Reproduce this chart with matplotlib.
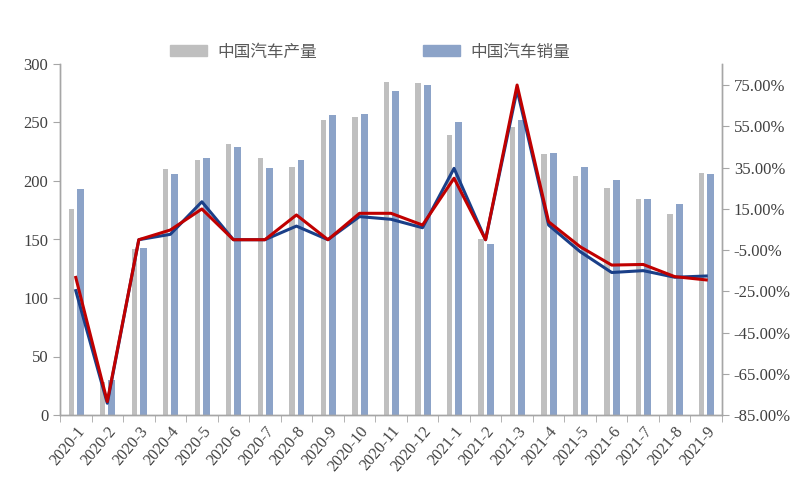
import numpy as np
import matplotlib.pyplot as plt
from matplotlib.ticker import FixedLocator, FuncFormatter
from matplotlib.patches import Patch

plt.rcParams['font.family'] = ['Liberation Serif', 'Noto Sans CJK SC']

# 月份
mois = ['2020-1', '2020-2', '2020-3', '2020-4', '2020-5', '2020-6', '2020-7',
        '2020-8', '2020-9', '2020-10', '2020-11', '2020-12', '2021-1', '2021-2',
        '2021-3', '2021-4', '2021-5', '2021-6', '2021-7', '2021-8', '2021-9']

# 产量 / 销量 (万辆)
production = [176, 28, 142, 210, 218, 232, 220, 212, 252, 255, 285, 284, 239, 150,
              246, 223, 204, 194, 185, 172, 207]
ventes = [193, 30, 143, 206, 220, 229, 211, 218, 256, 257, 277, 282, 250, 146,
          252, 224, 212, 201, 185, 180, 206]

# 同比增速 (%)
croissance_prod = [-24.7, -79.3, 0.0, 2.6, 18.4, 0.0, 0.0, 6.6, 0.0, 11.2, 9.9, 5.8,
                   34.6, 0.0, 72.6, 7.1, -5.8, -15.9, -15.0, -18.2, -17.6]
croissance_ventes = [-18.3, -78.5, 0.0, 4.7, 14.9, 0.0, 0.0, 12.0, 0.0, 12.8, 12.8, 7.1,
                     29.8, 0.0, 75.0, 8.7, -3.4, -12.3, -12.0, -17.9, -19.5]

gris = '#BFBFBF'
bleu_barre = '#8CA3C8'
bleu_ligne = '#1A3F88'
rouge = '#C00000'
axe = '#A6A6A6'

x = np.arange(len(mois))

fig = plt.figure(figsize=(8, 5), dpi=100)
ax = fig.add_axes([0.075, 0.17, 0.8275, 0.702])

ax.bar(x - 0.145, production, width=0.17, color=gris)
ax.bar(x + 0.145, ventes, width=0.22, color=bleu_barre)

ax.set_xlim(-0.5, len(mois) - 0.5)
ax.set_ylim(0, 300)
ax.set_yticks(np.arange(0, 301, 50))

ax2 = ax.twinx()
ax2.plot(x, croissance_prod, color=bleu_ligne, lw=2.2)
ax2.plot(x, croissance_ventes, color=rouge, lw=2.2)
ax2.set_ylim(-85, 85.2)
ax2.set_yticks(np.arange(-85, 76, 20))
ax2.yaxis.set_major_formatter(FuncFormatter(lambda v, p: f'{v:.2f}%'))

# x ticks: labels at centers, marks at boundaries
ax.set_xticks(x)
ax.set_xticklabels(mois, rotation=50, ha='right', rotation_mode='anchor', fontsize=11.5, color='#404040')
ax.tick_params(axis='x', which='major', length=0, pad=6)
ax.xaxis.set_minor_locator(FixedLocator(np.arange(-0.5, len(mois), 1)))
ax.tick_params(axis='x', which='minor', length=5, color=axe)

ax.tick_params(axis='y', labelsize=12, labelcolor='#404040', color=axe, length=5)
ax2.tick_params(axis='y', labelsize=12, labelcolor='#404040', color=axe, length=5)

for a in (ax, ax2):
    a.spines['top'].set_visible(False)
    for s in ('left', 'right', 'bottom'):
        a.spines[s].set_color(axe)
        a.spines[s].set_linewidth(1)

poignees = [Patch(color=gris), Patch(color=bleu_barre)]
fig.legend(poignees, ['中国汽车产量', '中国汽车销量'], loc='center', ncol=2,
           bbox_to_anchor=(0.4625, 0.896), frameon=False, columnspacing=6.4,
           handlelength=2.2, handleheight=0.6, handletextpad=0.6,
           prop={'family': 'Noto Sans CJK SC', 'size': 12}, labelcolor='#595959')

fig.savefig('out.png', dpi=100)
